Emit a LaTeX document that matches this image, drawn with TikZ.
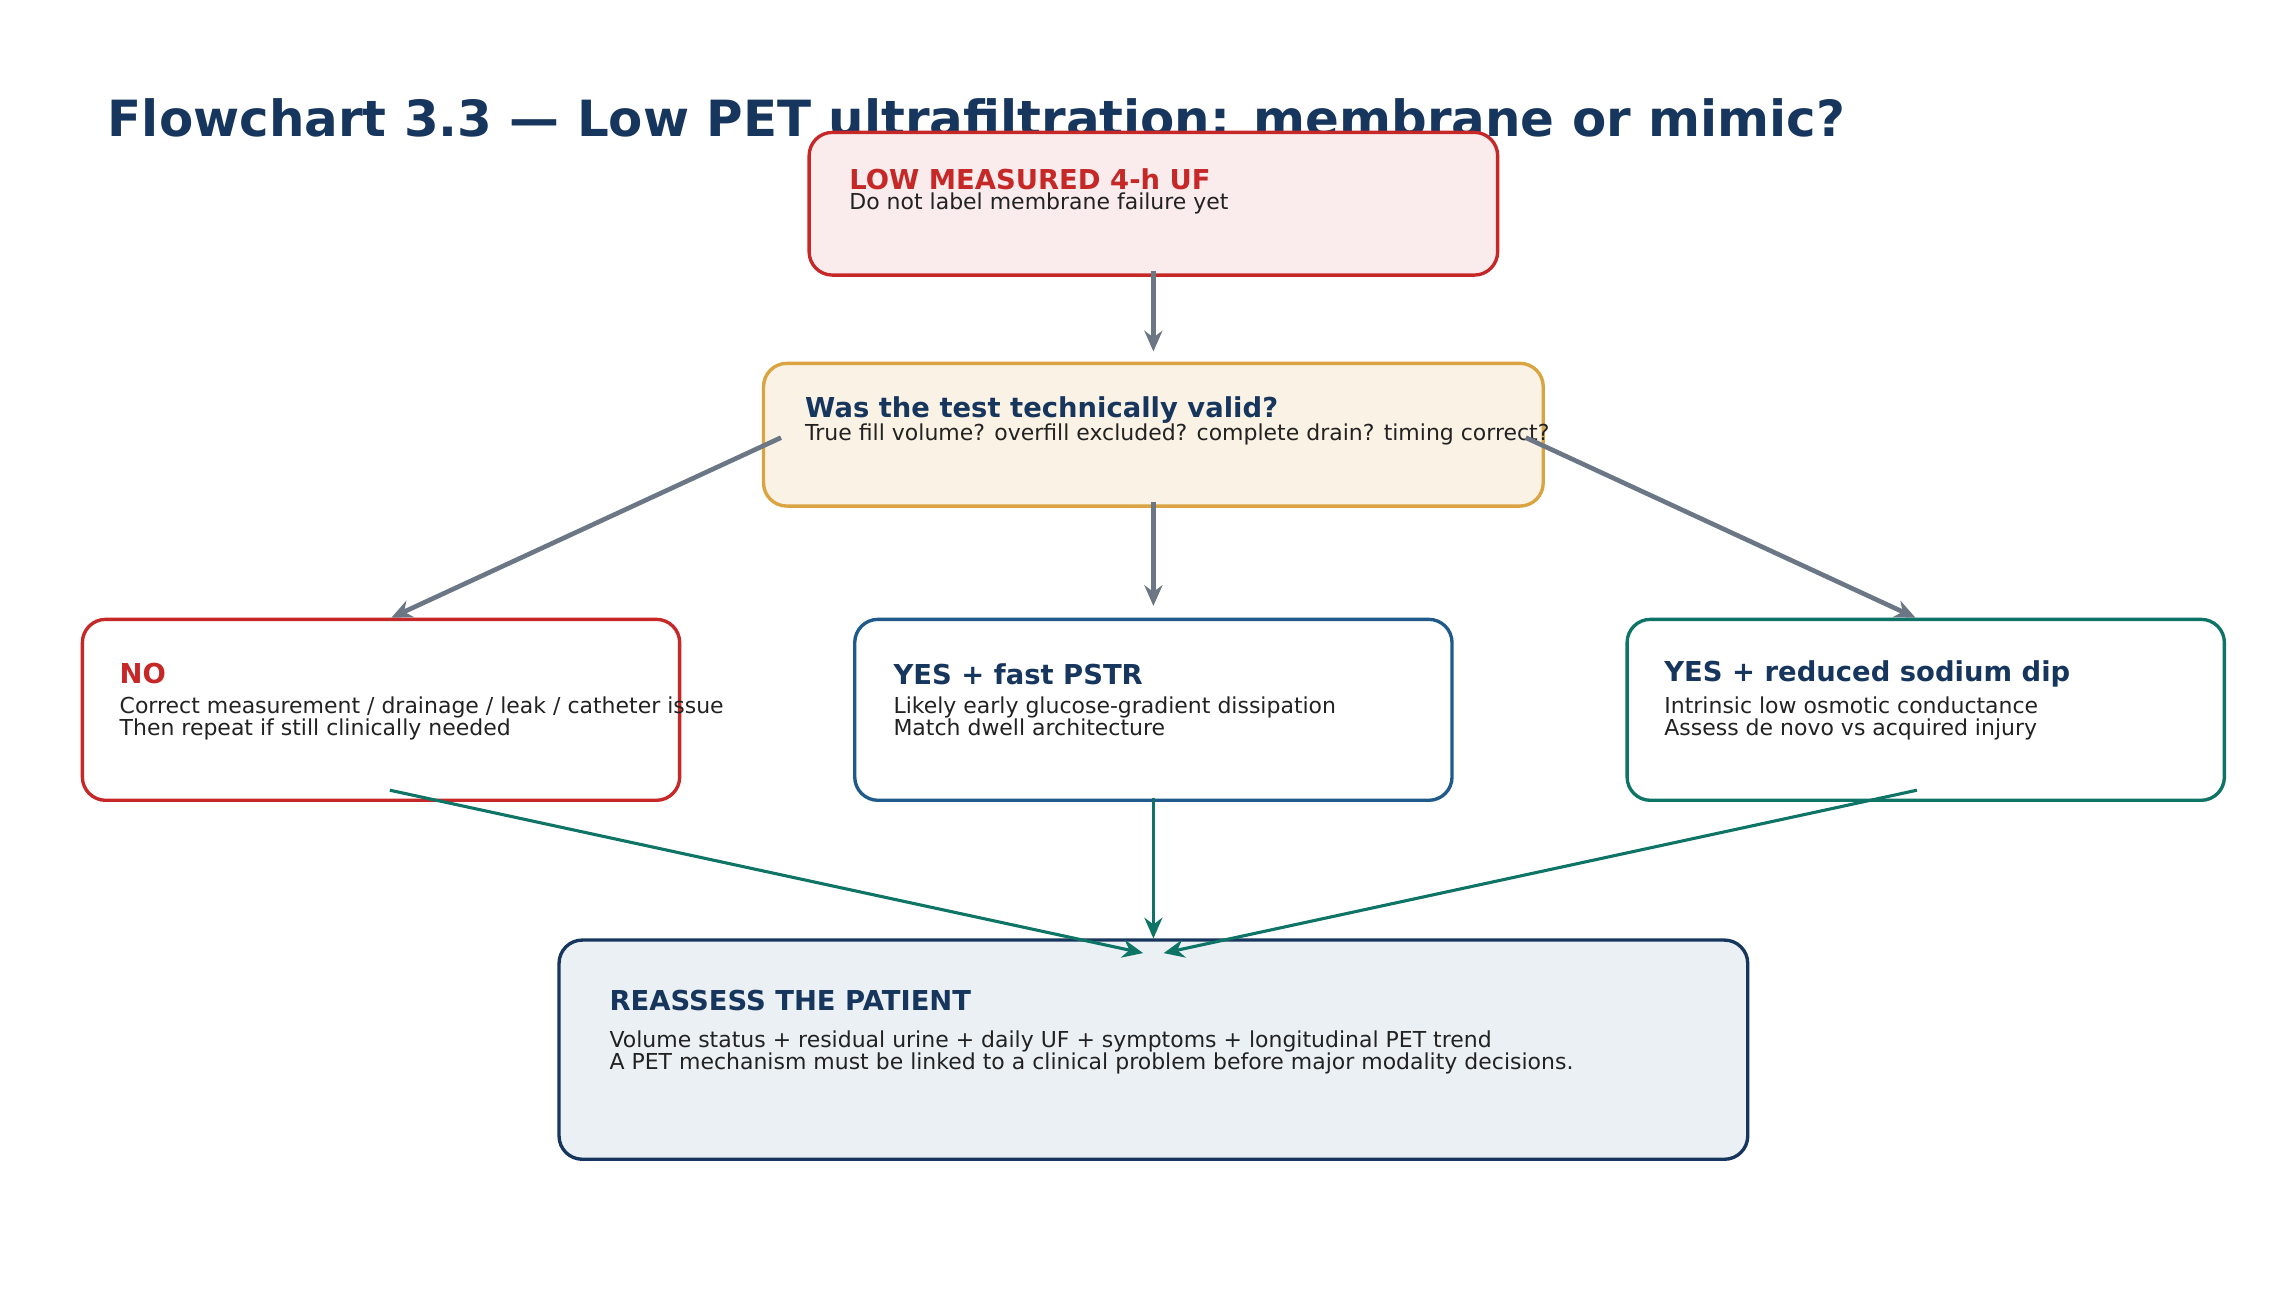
\documentclass[tikz,border=0pt]{standalone}
\usepackage{fontspec}
\setmainfont{DejaVu Sans}
\usetikzlibrary{calc, positioning, arrows.meta}
\definecolor{navy}{HTML}{17365D}
\definecolor{alarm}{HTML}{C62828}
\definecolor{amber}{HTML}{D9A441}
\definecolor{steel}{HTML}{1F5A8A}
\definecolor{teal}{HTML}{0E7466}
\definecolor{slate}{HTML}{6B7785}
\definecolor{ink}{HTML}{222222}
\tikzstyle{box}=[draw, rounded corners=9pt, line width=1.3pt, inner sep=0pt]
\tikzstyle{head}=[anchor=west, font=\fontsize{10.6}{12}\selectfont\bfseries, text=navy, inner sep=0pt]
\tikzstyle{body}=[anchor=north west, align=left, font=\fontsize{8.5}{8.7}\selectfont, text=ink, inner sep=0pt]
\tikzstyle{flow}=[-{Stealth[length=8pt,width=7pt]}, line width=1.8pt, slate]
\tikzstyle{merge}=[-{Stealth[length=8pt,width=7pt]}, line width=1.2pt, teal]

\begin{document}
\begin{tikzpicture}[x=0.2mm, y=-0.2mm]
		\useasboundingbox (0,0) rectangle (1560,892);
		% Title
		\node[anchor=west, inner sep=0pt, font=\fontsize{19.3}{20}\selectfont\bfseries, text=navy] (title) at (73,80) {Flowchart 3.3 — Low PET ultrafiltration: membrane or mimic?};

		% Boxes
		\node[box, alarm, fill=alarm!9, minimum width=468*0.2mm, minimum height=97*0.2mm] (low) at (784,138.5) {};
		\node[box, amber, fill=amber!14, minimum width=530*0.2mm, minimum height=97*0.2mm] (valid) at (784,295.5) {};
		\node[box, alarm, fill=white, minimum width=406*0.2mm, minimum height=123*0.2mm] (no) at (259,482.5) {};
		\node[box, steel, fill=white, minimum width=406*0.2mm, minimum height=123*0.2mm] (fast) at (784,482.5) {};
		\node[box, teal, fill=white, minimum width=406*0.2mm, minimum height=123*0.2mm] (sodium) at (1309,482.5) {};
		\node[box, navy, fill=steel!9, minimum width=808*0.2mm, minimum height=149*0.2mm] (patient) at (784,713.5) {};

		% Texts
		\node[head, text=alarm] (low-h) at (577,122) {LOW MEASURED 4-h UF};
		\node[body] at (577,131) {Do not label membrane failure yet};
		\node[head] (valid-h) at (547,279) {Was the test technically valid?};
		\node[body] at (547,288) {True fill volume? overfill excluded? complete drain? timing correct?};
		\node[head, text=alarm] (no-h) at (81,458) {NO};
		\node[body] at (81,473) {Correct measurement / drainage / leak / catheter issue\\Then repeat if still clinically needed};
		\node[head] (fast-h) at (607,458) {YES + fast PSTR};
		\node[body] at (607,473) {Likely early glucose-gradient dissipation\\Match dwell architecture};
		\node[head] (sodium-h) at (1131,458) {YES + reduced sodium dip};
		\node[body] at (1131,473) {Intrinsic low osmotic conductance\\Assess de novo vs acquired injury};
		\node[head] (patient-h) at (414,680) {REASSESS THE PATIENT};
		\node[body] at (414,700) {Volume status + residual urine + daily UF + symptoms + longitudinal PET trend\\A PET mechanism must be linked to a clinical problem before major modality decisions.};

		% Arrows
		\draw[flow] ($(low.south)+(0,-4)$) -- ($(valid.north)+(0,-7)$);
		\draw[flow] ($(valid.west)+(13,2)$) -- ($(no.north)+(7,0)$);
		\draw[flow] ($(valid.south)+(0,-4)$) -- ($(fast.north)+(0,-8)$);
		\draw[flow] ($(valid.east)+(-13,2)$) -- ($(sodium.north)+(-7,0)$);

		\coordinate (in-left) at ($(patient.north)+(-7,10)$);
		\coordinate (in-right) at ($(patient.north)+(7,10)$);
		\draw[merge] ($(no.south)+(6,-8)$) -- (in-left);
		\draw[merge] ($(fast.south)+(0,-3)$) -- (patient.north);
		\draw[merge] ($(sodium.south)+(-6,-8)$) -- (in-right);
	\end{tikzpicture}
\end{document}
